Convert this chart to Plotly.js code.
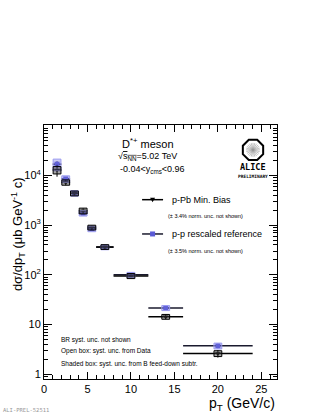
<!DOCTYPE html>
<html>
<head>
<meta charset="utf-8">
<script src="https://cdn.plot.ly/plotly-3.0.1.min.js"></script>
<style>
  html, body { margin: 0; padding: 0; background: #fff; }
  #chart { width: 322px; height: 417px; }
</style>
</head>
<body>
<div id="chart"></div>
<script>
// pT bins (GeV/c)
var ptCenter = [1.5, 2.5, 3.5, 4.5, 5.5, 7, 10, 14, 20];
var ptHalf = [0.5, 0.5, 0.5, 0.5, 0.5, 1, 2, 2, 4];

// p-Pb min. bias cross section (ub GeV^-1 c)
var pPb = [13000, 7300, 4400, 1950, 900, 365, 95, 14.3, 2.6];
var pPbStat = [3500, 900, 350, 250, 80, 25, 7, 1.5, 0.45];
var pPbSys = [2200, 900, 500, 260, 100, 40, 11, 1.6, 0.35];

// p-p rescaled reference
var pp = [17000, 8600, 4400, 1750, 850, 360, 100, 21.5, 3.7];
var ppStat = [2500, 700, 300, 150, 60, 25, 6, 2, 0.4];
var ppSys = [4500, 1300, 550, 220, 110, 40, 12, 2.5, 0.5];

var boxHalf = 0.45;

// systematic boxes, drawn on the data axes
function sysBoxes(yv, sys, line, fill) {
    var out = [];
    for (let i = 0; i < ptCenter.length; i++) {
        out.push({
            type: 'rect', xref: 'x', yref: 'y', layer: 'above',
            x0: ptCenter[i] - boxHalf, x1: ptCenter[i] + boxHalf,
            y0: yv[i] - sys[i], y1: yv[i] + sys[i],
            line: {color: line, width: 1}, fillcolor: fill
        });
    }
    return out;
}

var traces = [
    {
        x: ptCenter, y: pp, type: 'scatter', mode: 'markers',
        marker: {symbol: 'square', size: 5, color: '#5b5bd6'},
        error_x: {type: 'data', array: ptHalf, color: '#1a1a2e', thickness: 1.5, width: 0},
        error_y: {type: 'data', array: ppStat, color: '#1a1a2e', thickness: 1, width: 0},
        showlegend: false
    },
    {
        x: ptCenter, y: pPb, type: 'scatter', mode: 'markers',
        marker: {symbol: 'triangle-down', size: 5, color: '#000'},
        error_x: {type: 'data', array: ptHalf, color: '#000', thickness: 1.5, width: 0},
        error_y: {type: 'data', array: pPbStat, color: '#000', thickness: 1, width: 0},
        showlegend: false
    }
];

var shapes = [].concat(
    sysBoxes(pp, ppSys, '#9a9af0', 'rgba(110,110,220,0.35)'),
    sysBoxes(pPb, pPbSys, '#000', 'rgba(60,60,60,0.45)')
);

// legend lines and markers
shapes.push({type: 'line', xref: 'paper', yref: 'paper', x0: 0.421, x1: 0.511, y0: 0.706, y1: 0.706, line: {color: '#000', width: 1.5}});
shapes.push({type: 'path', xref: 'paper', yref: 'paper', xsizemode: 'pixel', ysizemode: 'pixel', xanchor: 0.466, yanchor: 0.706,
    path: 'M-2.5,2 L2.5,2 L0,-2.5 Z', fillcolor: '#000', line: {width: 0}});
shapes.push({type: 'line', xref: 'paper', yref: 'paper', x0: 0.421, x1: 0.511, y0: 0.571, y1: 0.571, line: {color: '#1a1a2e', width: 1.5}});
shapes.push({type: 'rect', xref: 'paper', yref: 'paper', xsizemode: 'pixel', ysizemode: 'pixel', xanchor: 0.466, yanchor: 0.571,
    x0: -2.5, x1: 2.5, y0: -2.5, y1: 2.5, fillcolor: '#5b5bd6', line: {width: 0}});

// ALICE logo: octagon with a starburst
var oct = '';
for (let k = 0; k < 8; k++) {
    var a = Math.PI / 8 + k * Math.PI / 4;
    oct += (k === 0 ? 'M' : 'L') + (11 * Math.cos(a)).toFixed(2) + ',' + (11 * Math.sin(a)).toFixed(2) + ' ';
}
oct += 'Z';
shapes.push({type: 'path', xref: 'paper', yref: 'paper', xsizemode: 'pixel', ysizemode: 'pixel',
    xanchor: 0.897, yanchor: 0.902, path: oct, line: {color: '#000', width: 2}});
var burst = '';
for (let k = 0; k < 24; k++) {
    var b = k * Math.PI / 12;
    burst += 'M0,0 L' + (7 * Math.cos(b)).toFixed(2) + ',' + (7 * Math.sin(b)).toFixed(2) + ' ';
}
shapes.push({type: 'path', xref: 'paper', yref: 'paper', xsizemode: 'pixel', ysizemode: 'pixel',
    xanchor: 0.897, yanchor: 0.902, path: burst, line: {color: '#999', width: 0.6}});

var font = 'Liberation Sans, Arial, sans-serif';
function note(text, x, y, size, extra) {
    var a = {text: text, xref: 'paper', yref: 'paper', x: x, y: y, showarrow: false,
        xanchor: 'left', yanchor: 'middle', font: {family: font, size: size, color: '#000'}};
    for (var k in extra) a[k] = extra[k];
    return a;
}

var annotations = [
    note('D<sup>*+</sup> meson', 0.328, 0.928, 11),
    note('&#8730;<span style="text-decoration:overline">s<sub>NN</sub></span>=5.02 TeV', 0.31, 0.876, 9),
    note('-0.04&lt;y<sub>cms</sub>&lt;0.96', 0.316, 0.823, 9),
    note('p-Pb Min. Bias', 0.54, 0.706, 9),
    note('(&#177; 3.4% norm. unc. not shown)', 0.523, 0.64, 5.5),
    note('p-p rescaled reference', 0.542, 0.571, 9),
    note('(&#177; 3.5% norm. unc. not shown)', 0.523, 0.504, 5.5),
    note('<b>ALICE</b>', 0.897, 0.835, 8.5, {xanchor: 'center', font: {family: 'DejaVu Sans Mono, monospace', size: 8.5, color: '#000'}}),
    note('<b>PRELIMINARY</b>', 0.897, 0.799, 4.5, {xanchor: 'center', font: {family: 'DejaVu Sans Mono, monospace', size: 4.5, color: '#000'}}),
    note('BR syst. unc. not shown', 0.064, 0.154, 6.5),
    note('Open box: syst. unc. from Data', 0.064, 0.11, 6.5),
    note('Shaded box: syst. unc. from B feed-down subtr.', 0.064, 0.059, 6.5),
    note('p<sub>T</sub> (GeV/c)', 1.0, -0.098, 14, {xanchor: 'right'}),
    note('d&#963;/dp<sub>T</sub> (&#956;b GeV<sup>-1</sup> c)', -0.112, 0.57, 13, {xanchor: 'center', textangle: -90}),
    note('ALI-PREL-52511', -0.186, -0.142, 5.5, {yanchor: 'bottom', font: {family: 'DejaVu Sans Mono, monospace', size: 5.5, color: '#999'}})
];

var layout = {
    width: 322, height: 417,
    margin: {l: 44, r: 45, t: 125, b: 38},
    paper_bgcolor: '#fff', plot_bgcolor: '#fff',
    showlegend: false,
    font: {family: font, size: 11, color: '#000'},
    xaxis: {
        range: [0, 26.8], showgrid: false, zeroline: false,
        showline: true, linecolor: '#000', linewidth: 1, mirror: 'allticks',
        ticks: 'inside', ticklen: 7, tickcolor: '#000', dtick: 5, tick0: 0,
        minor: {ticks: 'inside', ticklen: 4, dtick: 1, tickcolor: '#000', showgrid: false},
        tickfont: {family: font, size: 11}
    },
    yaxis: {
        type: 'log', range: [-0.1, 5.02], showgrid: false, zeroline: false,
        showline: true, linecolor: '#000', linewidth: 1, mirror: 'allticks',
        ticks: 'inside', ticklen: 8, tickcolor: '#000',
        tickvals: [1, 10, 100, 1000, 10000],
        ticktext: ['1', '10', '10<sup>2</sup>', '10<sup>3</sup>', '10<sup>4</sup>'],
        minor: {ticks: 'inside', ticklen: 4, tickcolor: '#000', dtick: 'D1', showgrid: false},
        tickfont: {family: font, size: 11}
    },
    shapes: shapes,
    annotations: annotations
};

Plotly.newPlot('chart', traces, layout, {staticPlot: true});
</script>
</body>
</html>
